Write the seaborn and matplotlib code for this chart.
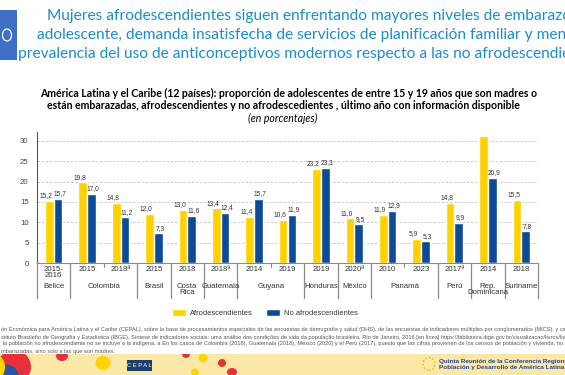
import numpy as np
import pandas as pd
import matplotlib.pyplot as plt
import seaborn as sns
from matplotlib.patches import Rectangle, Ellipse
import matplotlib.transforms as mtransforms

# datos
paises = ['Belice', 'Colombia', 'Colombia', 'Brasil', 'Costa\nRica', 'Guatemala', 'Guyana', 'Guyana',
          'Honduras', 'México', 'Panamá', 'Panamá', 'Perú', 'Rep.\nDominicana', 'Suriname']
anios = ['2015-\n2016', '2015', '2018ª', '2015', '2018', '2018ª', '2014', '2019',
         '2019', '2020ª', '2010', '2023', '2017ª', '2014', '2018']
afro = [15.2, 19.8, 14.8, 12.0, 13.0, 13.4, 11.4, 10.6, 23.2, 11.0, 11.9, 5.9, 14.8, 31.2, 15.5]
no_afro = [15.7, 17.0, 11.2, 7.3, 11.6, 12.4, 15.7, 11.9, 23.3, 9.5, 12.9, 5.3, 9.9, 20.9, 7.8]
series = ['Afrodescendientes', 'No afrodescendientes']

grupos = [f'{p}|{a}' for p, a in zip(paises, anios)]
df = pd.DataFrame({
    'grupo': grupos * 2,
    'poblacion': [series[0]] * len(afro) + [series[1]] * len(no_afro),
    'valor': afro + no_afro,
})

sns.set_style('white')
plt.rcParams['font.family'] = ['Liberation Sans', 'DejaVu Sans']

fig = plt.figure(figsize=(5.65, 3.75), dpi=100)
W, H = 565, 375

ax = fig.add_axes([37 / W, 1 - 263 / H, 501 / W, 131 / H])
sns.barplot(data=df, x='grupo', y='valor', hue='poblacion', ax=ax, width=0.52, saturation=1,
            palette={series[0]: '#FFD100', series[1]: '#0D4A97'})
ax.set_xlim(-0.5, len(grupos) - 0.5)
ax.set_ylim(0, 32.2)
ax.set_yticks(range(0, 31, 5))
ax.yaxis.grid(True, ls=(0, (3, 2)), color='#c4c4c4', lw=0.6)
ax.set_axisbelow(True)
ax.set_xlabel('')
ax.set_ylabel('')
for s in ['top', 'right']:
    ax.spines[s].set_visible(False)
ax.spines['left'].set_color('#555555')
ax.spines['left'].set_linewidth(0.8)
ax.spines['bottom'].set_color('#8a8a8a')
ax.spines['bottom'].set_linewidth(0.8)
ax.tick_params(axis='y', labelsize=5.6, colors='#444444', length=2, pad=4)
ax.set_xticks(range(len(grupos)))
ax.set_xticklabels(anios, fontsize=5.6, color='#333333', linespacing=0.85)
ax.tick_params(axis='x', length=0, pad=2)

# etiquetas de valor (la de Rep. Dominicana queda fuera del area en el original)
for cont, dx in zip(ax.containers, [-2.4, 1.2]):
    labs = [f'{b.get_height():.1f}'.replace('.', ',') if b.get_height() < 30 else '' for b in cont]
    txts = ax.bar_label(cont, labels=labs, fontsize=4.8, color='#333333', padding=1.2)
    for t in txts:
        t.xyann = (dx, t.xyann[1])

# separadores y nombres de paises
trans = mtransforms.blended_transform_factory(ax.transData, ax.transAxes)
limites = [-0.5]
for i in range(1, len(paises)):
    if paises[i] != paises[i - 1]:
        limites.append(i - 0.5)
    else:
        ax.plot([i - 0.5, i - 0.5], [0, -0.03], color='#8a8a8a', lw=0.8, transform=trans, clip_on=False)
limites.append(len(paises) - 0.5)
for x in limites:
    ax.plot([x, x], [0, -0.267], color='#8a8a8a', lw=0.9, transform=trans, clip_on=False)
for a, b in zip(limites[:-1], limites[1:]):
    nombre = paises[int(a + 0.5)]
    ax.text((a + b) / 2, -0.153, nombre, transform=trans, ha='center', va='top',
            fontsize=5.6, color='#333333', linespacing=0.85)

sns.move_legend(ax, 'center', bbox_to_anchor=(265 / W, 1 - 313 / H), bbox_transform=fig.transFigure,
                ncol=2, frameon=False, title=None, fontsize=5.4, handlelength=1.9, handleheight=1.0,
                columnspacing=1.8, handletextpad=0.5)
for t in ax.get_legend().get_texts():
    t.set_color('#333333')

# titulo
titulo = ['Mujeres afrodescendientes siguen enfrentando mayores niveles de embarazo',
          'adolescente, demanda insatisfecha de servicios de planificación familiar y menor',
          'prevalencia del uso de anticonceptivos modernos respecto a las no afrodescendientes']
for k, linea in enumerate(titulo):
    fig.text(309 / W, 1 - (16 + 19 * k) / H, linea, ha='center', va='center', fontsize=11.2,
             color='#1c8ccd', family=['Lato', 'DejaVu Sans'])

sub = ['América Latina y el Caribe (12 países): proporción de adolescentes de entre 15 y 19 años que son madres o',
       'están embarazadas, afrodescendientes y no afrodescedientes , último año con información disponible']
for k, (linea, cx) in enumerate(zip(sub, [289, 283])):
    fig.text(cx / W, 1 - (93 + 12.5 * k) / H, linea, ha='center', va='center', fontsize=7.6,
             fontweight='bold', color='black', family=['Lato', 'DejaVu Sans'])
fig.text(283 / W, 1 - 118 / H, '(en porcentajes)', ha='center', va='center', fontsize=7.6,
         style='italic', color='black', family=['Lato', 'DejaVu Sans'])

# logo superior izquierdo
fig.patches.append(Rectangle((0, 1 - 60 / H), 17 / W, 50 / H, transform=fig.transFigure,
                             facecolor='#3f6fc4', edgecolor='none'))
fig.patches.append(Ellipse((7 / W, 1 - 35 / H), 9 / W, 12 / H, transform=fig.transFigure,
                           facecolor='none', edgecolor='white', lw=0.9))

# nota al pie
nota = ['ón Económica para América Latina y el Caribe (CEPAL), sobre la base de procesamientos especiales de las encuestas de demografía y salud (DHS), de las encuestas de indicadores múltiples por conglomerados (MICS), y censos',
        'stituto Brasileño de Geografía y Estadística (IBGE), Síntese de indicadores sociais: uma análise das condições de vida da população brasileira, Río de Janeiro, 2016 [en línea] https://biblioteca.ibge.gov.br/visualizacao/livros/liv98965.pdf',
        ' la población no afrodescendiente no se incluye a la indígena. a En los casos de Colombia (2018), Guatemala (2018), México (2020) y el Perú (2017), puesto que las cifras provienen de los censos de población y vivienda, no se incluye',
        'mbarazadas, sino solo a las que son madres.']
for k, linea in enumerate(nota):
    fig.text(1 / W, 1 - (330 + 7 * k) / H, linea, ha='left', va='center', fontsize=4.1,
             color='#555555')

# franja inferior
band = fig.add_axes([0, 0, 1, 21 / H])
band.set_xlim(0, W)
band.set_ylim(0, 21)
band.set_facecolor('#fbe8a6')
band.set_xticks([])
band.set_yticks([])
for s in band.spines.values():
    s.set_visible(False)
for (cx, cy, w, h, c) in [(14, 8, 34, 34, '#e8303a'), (4, -2, 30, 26, '#2b56a8'), (-2, 8, 14, 22, '#ffd200'),
                          (62, 19, 12, 10, '#e8303a'), (103, 12, 15, 14, '#ffd200'),
                          (186, 21, 8, 8, '#e8303a'), (203, 17, 9, 9, '#ffd200'), (222, 12, 8, 8, '#e8303a'),
                          (232, 3, 10, 8, '#e8303a'), (195, 3, 8, 7, '#ffd200')]:
    band.add_patch(Ellipse((cx, cy), w, h, facecolor=c, edgecolor='none'))
band.add_patch(Rectangle((127, 4), 25, 11, facecolor='#1d3f6e', edgecolor='none'))
band.text(139.5, 9.5, 'C E P A L', ha='center', va='center', fontsize=4.2, color='white')
band.add_patch(Ellipse((429, 11), 12, 13, facecolor='none', edgecolor='#e8b400', lw=1.0, ls=':'))
band.text(439, 13.5, 'Quinta Reunión de la Conferencia Regional sobre', ha='left', va='center',
          fontsize=4.6, color='#2540a0', fontweight='bold')
band.text(439, 7, 'Población y Desarrollo de América Latina y el Caribe', ha='left', va='center',
          fontsize=4.6, color='#2540a0', fontweight='bold')

fig.savefig('out.png', dpi=100)
